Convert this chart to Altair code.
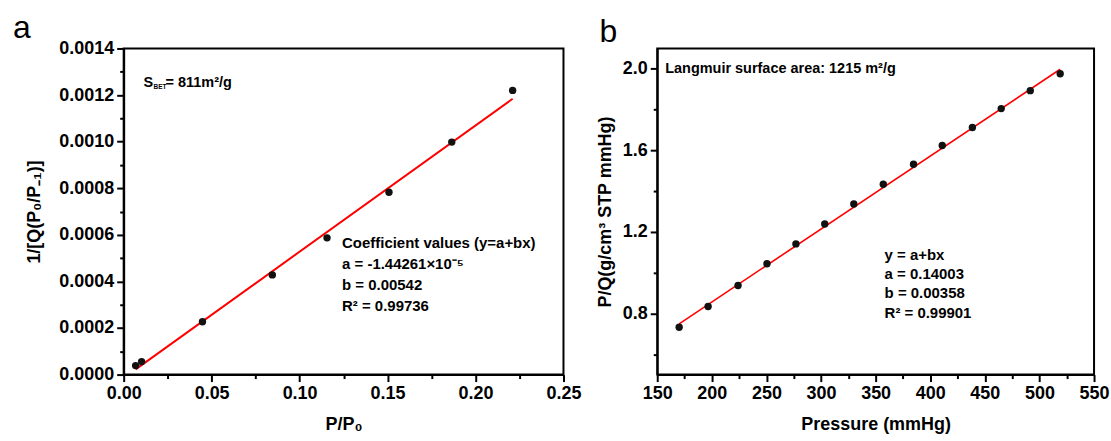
import altair as alt
import pandas as pd

# ---- data ----
a_x = [0.0068, 0.0102, 0.0448, 0.0845, 0.1156, 0.1508, 0.1865, 0.2211]
a_y = [0.0000385, 0.0000557, 0.000227, 0.000428, 0.000587, 0.000783, 0.000998, 0.00122]
a_coef = [-1.44261e-5, 0.00542]

b_x = [170.1, 196.6, 224.0, 250.5, 277.0, 303.4, 330.0, 357.0, 384.7, 411.0, 438.6, 465.0, 491.6, 519.0]
b_y = [0.732, 0.834, 0.937, 1.044, 1.141, 1.239, 1.337, 1.434, 1.532, 1.624, 1.712, 1.805, 1.893, 1.976]
b_coef = [0.14003, 0.00358]

a_xticks = [round(i * 0.025, 3) for i in range(0, 11)]
a_yticks = [round(i * 0.0001, 4) for i in range(0, 15)]
b_xticks = [150 + 25 * i for i in range(0, 17)]
b_yticks = [round(0.6 + 0.2 * i, 1) for i in range(0, 8)]

FONT = "Liberation Sans"

df_a = pd.DataFrame({"x": a_x, "y": a_y})
fa_x = [min(a_x), max(a_x)]
fit_a = pd.DataFrame({"x": fa_x, "y": [a_coef[0] + a_coef[1] * v for v in fa_x]})

df_b = pd.DataFrame({"x": b_x, "y": b_y})
fb_x = [min(b_x), max(b_x)]
fit_b = pd.DataFrame({"x": fb_x, "y": [b_coef[0] + b_coef[1] * v for v in fb_x]})

one = pd.DataFrame({"k": [0]})


def txt(s, x, y, size=15, weight="bold", baseline="middle"):
    return alt.Chart(one).mark_text(
        text=s, align="left", baseline=baseline, font=FONT, fontSize=size,
        fontWeight=weight, color="black"
    ).encode(x=alt.value(x), y=alt.value(y))


def axis(title, values, major_test, fmt, orient, title_pad):
    return alt.Axis(
        title=title, values=values, orient=orient,
        labelExpr=f"({major_test}) ? format(datum.value, '{fmt}') : ''",
        tickSize={"condition": {"test": major_test, "value": 7}, "value": 4},
        labelOverlap=False, labelFlush=False, titlePadding=title_pad,
    )


# ---- panel a ----
xa = alt.X("x:Q", scale=alt.Scale(domain=[0, 0.25], nice=False, zero=False),
           axis=axis("P/P₀", a_xticks, "round(datum.value*40) % 2 == 0", ".2f", "bottom", 13))
ya = alt.Y("y:Q", scale=alt.Scale(domain=[0, 0.0014], nice=False),
           axis=axis("1/[Q(P₀/P₋₁)]", a_yticks, "round(datum.value*10000) % 2 == 0", ".4f", "left", 15))

pts_a = alt.Chart(df_a).mark_point(filled=True, size=55, color="#111111", opacity=1).encode(x=xa, y=ya)
line_a = alt.Chart(fit_a).mark_line(color="#ff0000", strokeWidth=2).encode(x=xa, y=ya)

panel_a = alt.layer(
    line_a, pts_a,
    txt("S", 20, 35, 14.5),
    txt("BET", 30, 39, 6.5),
    txt("= 811m²/g", 42, 35, 14.5),
    txt("Coefficient values (y=a+bx)", 219, 195, 15),
    txt("a = -1.44261×10⁻⁵", 219, 216, 15),
    txt("b = 0.00542", 219, 237, 15),
    txt("R² = 0.99736", 219, 258, 15),
    txt("a", -111, -10, 32, "normal", "alphabetic"),
).properties(width=441, height=327)

# ---- panel b ----
xb = alt.X("x:Q", scale=alt.Scale(domain=[150, 550], nice=False, zero=False),
           axis=axis("Pressure (mmHg)", b_xticks, "round(datum.value/25) % 2 == 0", "d", "bottom", 13))
yb = alt.Y("y:Q", scale=alt.Scale(domain=[0.5, 2.1], nice=False, zero=False),
           axis=axis("P/Q(g/cm³ STP mmHg)", b_yticks, "round(datum.value*5) % 2 == 0", ".1f", "left", 8))

pts_b = alt.Chart(df_b).mark_point(filled=True, size=55, color="#111111", opacity=1).encode(x=xb, y=yb)
line_b = alt.Chart(fit_b).mark_line(color="#ff0000", strokeWidth=1.6).encode(x=xb, y=yb)

panel_b = alt.layer(
    line_b, pts_b,
    txt("Langmuir surface area: 1215 m²/g", 8, 21, 14.5),
    txt("y = a+bx", 228, 207, 15),
    txt("a = 0.14003", 228, 226, 15),
    txt("b = 0.00358", 228, 245, 15),
    txt("R² = 0.99901", 228, 265, 15),
    txt("b", -58, -6, 32, "normal", "alphabetic"),
).properties(width=438, height=327)

chart = alt.hconcat(panel_a, panel_b, spacing=12).properties(
    padding={"left": 12, "top": 11, "right": 0, "bottom": 0},
    background="white",
).configure_axis(
    labelFont=FONT, labelFontWeight="bold", labelFontSize=18, labelColor="black",
    titleFont=FONT, titleFontWeight="bold", titleFontSize=18, titleColor="black",
    domainColor="black", domainWidth=2, tickColor="black", tickWidth=2,
    labelPadding=3, grid=False,
).configure_view(stroke="black", strokeWidth=2)

chart.save("out.html", embed_options={"renderer": "svg", "actions": False})
